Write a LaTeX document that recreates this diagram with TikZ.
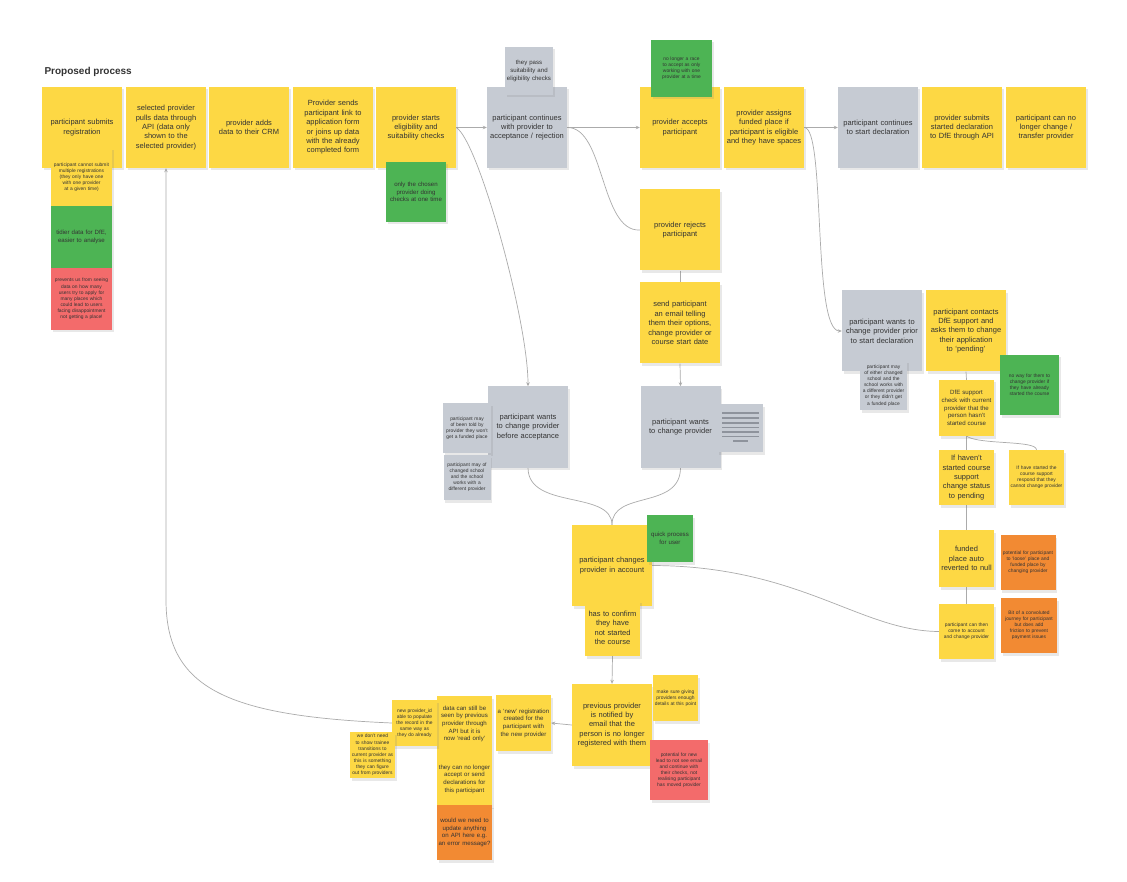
\documentclass[tikz,border=0pt]{standalone}
\usepackage{fontspec}
\setmainfont{Liberation Sans}
\usetikzlibrary{shadows,arrows.meta,calc}
\definecolor{yel}{HTML}{FDD844}
\definecolor{gry}{HTML}{C6CBD3}
\definecolor{grn}{HTML}{4DB454}
\definecolor{rd}{HTML}{F36B6B}
\definecolor{org}{HTML}{F28A33}
\definecolor{txt}{HTML}{333333}
\definecolor{lineC}{HTML}{ABABAB}
\definecolor{docline}{HTML}{8E939C}
\pgfdeclarelayer{back}
\pgfdeclarelayer{edges}
\pgfsetlayers{back,edges,main}
\tikzset{
  base/.style={rectangle, align=center, inner sep=0pt, text=txt,
    drop shadow={opacity=0.18, shadow xshift=1.5pt, shadow yshift=-2.5pt}},
  big/.style={base, minimum width=80pt, minimum height=81pt, text width=75pt,
    font=\fontsize{7.5}{9.4}\selectfont},
  box/.style n args={3}{minimum width=#1pt, minimum height=#2pt, text width=#3pt},
  fmed/.style={font=\fontsize{7.5}{9.4}\selectfont},
  fsm/.style={font=\fontsize{6.1}{7.7}\selectfont},
  ftiny/.style={font=\fontsize{4.9}{6.1}\selectfont},
  conn/.style={draw=lineC, line width=0.7pt},
  arr/.style={conn, -{Stealth[length=4pt,width=3.5pt]}},
}
\begin{document}
\hyphenpenalty=10000
\exhyphenpenalty=10000
\begin{tikzpicture}[x=1pt,y=-1pt]
\begin{pgfonlayer}{back}
\fill[white] (0,0) rectangle (1127,882);
\end{pgfonlayer}
\useasboundingbox (0,0) rectangle (1127,882);

\node[anchor=west, font=\bfseries\fontsize{10}{12}\selectfont, text=txt] (title) at (41,72) {Proposed process};

% top row
\node[big, fill=yel] (n1) at (82,127.5) {participant submits registration};
\node[big, fill=yel] (n2) at (166,127.5) {selected provider pulls data through API (data only shown to the selected provider)};
\node[big, fill=yel] (n3) at (249,127.5) {provider adds data to their CRM};
\node[big, fill=yel] (n4) at (333,127.5) {Provider sends participant link to application form or joins up data with the already completed form};
\node[big, fill=yel] (n5) at (416,127.5) {provider starts eligibility and suitability checks};
\node[big, fill=gry] (n6) at (527,127.5) {participant continues with provider to acceptance / rejection};
\node[big, fill=yel] (n7) at (680,127.5) {provider accepts participant};
\node[big, fill=yel] (n8) at (764,127.5) {provider assigns funded place if participant is eligible and they have spaces};
\node[big, fill=gry] (n9) at (878,127.5) {participant continues to start declaration};
\node[big, fill=yel] (n10) at (962,127.5) {provider submits started declaration to DfE through API};
\node[big, fill=yel] (n11) at (1046,127.5) {participant can no longer change / transfer provider};

\node[base, box={48}{48}{45}, fill=gry, fsm] (n6s) at (529,71) {they pass suitability and eligibility checks};
\node[base, box={61}{57}{55}, fill=grn, ftiny] (n7s) at (681.5,68.5) {no longer a race to accept as only working with one provider at a time};

% left stack
\node[base, box={61}{58}{56}, fill=yel, ftiny] (s1) at (81.5,177) {participant cannot submit multiple registrations (they only have one with one provider at a given time)};
\node[base, box={61}{62}{55}, fill=grn, fsm] (s2) at (81.5,237) {tidier data for DfE, easier to analyse};
\node[base, box={61}{62}{56}, fill=rd, ftiny] (s3) at (81.5,299) {prevents us from seeing data on how many users try to apply for many places which could lead to users facing disappointment not getting a place!};

\node[base, box={60}{60}{55}, fill=grn, fsm] (g1) at (416,192) {only the chosen provider doing checks at one time};

% middle column
\node[big, fill=yel] (n12) at (680,230) {provider rejects participant};
\node[big, fill=yel] (n13) at (680,323) {send participant an email telling them their options, change provider or course start date};
\node[big, fill=gry] (n14) at (528,427) {participant wants to change provider before acceptance};
\node[big, fill=gry] (n15) at (680.5,427) {participant wants to change provider};
\node[base, box={48}{50}{45}, fill=gry, ftiny] (gs1) at (467,428) {participant may of been told by provider they won't get a funded place};
\node[base, box={47}{45}{44}, fill=gry, ftiny] (gs2) at (467,477.5) {participant may of changed school and the school works with a different provider};
\node[base, box={46}{48}{40}, fill=gry] (doc) at (740,428) {};
\foreach \yy in {413,418,423,427.5,432,436.5}{
  \draw[docline, line width=1.5pt] (722,\yy) -- (759,\yy);
}
\draw[docline, line width=1.5pt] (733,441) -- (748,441);

\node[big, fill=yel] (n16) at (612,565.5) {participant changes provider in account};
\node[base, box={46}{47}{43}, fill=grn, fsm] (q) at (670,538.5) {quick process for user};
\node[base, box={55}{56}{53}, fill=yel, fmed] (c1) at (612.5,628) {has to confirm they have not started the course};
\node[big, fill=yel, minimum height=82pt] (n17) at (612,725) {previous provider is notified by email that the person is no longer registered with them};
\node[base, box={45}{46}{42}, fill=yel, ftiny] (m1) at (675.5,698) {make sure giving providers enough details at this point};
\node[base, box={58}{60}{53}, fill=rd, ftiny] (r1) at (679,770) {potential for new lead to not see email and continue with their checks, not realising participant has moved provider};

% bottom left cluster
\node[base, box={55}{56}{52}, fill=yel, fsm] (a1) at (523.5,723) {a `new' registration created for the participant with the new provider};
\node[base, box={55}{56}{52}, fill=yel, fsm] (d1) at (464.5,724) {data can still be seen by previous provider through API but it is now `read only'};
\node[base, box={55}{54}{52}, fill=yel, fsm] (d2) at (464.5,779) {they can no longer accept or send declarations for this participant};
\node[base, box={55}{55}{52}, fill=org, fsm] (d3) at (464.5,832.5) {would we need to update anything on API here e.g. an error message?};
\node[base, box={45}{46}{42}, fill=yel, ftiny] (y1) at (414.5,723) {new provider\_id able to populate the record in the same way as they do already};
\node[base, box={45}{46}{42}, fill=yel, ftiny] (y2) at (372.5,755) {we don't need to show trainee transitions to current provider as this is something they can figure out from providers};

% right column
\node[big, fill=gry] (rg) at (882,331) {participant wants to change provider prior to start declaration};
\node[base, box={47}{49}{44}, fill=gry, ftiny] (rgs) at (883.5,385.5) {participant may of either changed school and the school works with a different provider or they didn't get a funded place};
\node[big, fill=yel] (ry) at (966,331) {participant contacts DfE support and asks them to change their application to `pending'};
\node[base, box={59}{60}{55}, fill=grn, ftiny] (rgr) at (1029.5,385) {no way for them to change provider if they have already started the course};
\node[base, box={55}{56}{52}, fill=yel, fsm] (rc) at (966.5,408) {DfE support check with current provider that the person hasn't started course};
\node[base, box={55}{55}{52}, fill=yel, fmed] (rh) at (966.5,477.5) {If haven't started course support change status to pending};
\node[base, box={55}{55}{52}, fill=yel, ftiny] (rhs) at (1036.5,477.5) {If have started the course support respond that they cannot change provider};
\node[base, box={55}{57}{52}, fill=yel, fmed] (rf) at (966.5,558.5) {funded place auto reverted to null};
\node[base, box={55}{55}{52}, fill=org, ftiny] (ro1) at (1028,562.5) {potential for participant to `loose' place and funded place by changing provider};
\node[base, box={55}{55}{52}, fill=yel, ftiny] (rp) at (966.5,631.5) {participant can then come to account and change provider};
\node[base, box={56}{55}{52}, fill=org, ftiny] (ro2) at (1029,625.5) {Bit of a convoluted journey for participant but does add friction to prevent payment issues};

% connectors
\begin{pgfonlayer}{edges}
\draw[arr] (n5.east) -- (n6.west);
\draw[arr] (n6.east) -- (n7.west);
\draw[arr] (n8.east) -- (n9.west);
\draw[arr] (n5.east) .. controls (478,140) and (528,320) .. (n14.north);
\draw[conn] (n6.east) .. controls (605,127) and (600,232) .. (n12.west);
\draw[arr] (n8.east) .. controls (826,127) and (812,331) .. (rg.west);
\draw[conn] (n12.south) -- (n13.north);
\draw[arr] (n13.south) -- (n15.north);
\draw[conn] (n14.south) .. controls (528,510) and (612,490) .. (n16.north);
\draw[conn] (n15.south) .. controls (680.5,510) and (612,490) .. (n16.north);
\draw[conn] (n16.east) .. controls (800,566) and (860,631) .. (rp.west);
\draw[arr] (c1.south) -- (n17.north);
\draw[arr] (n17.west) -- (a1.east);
\draw[arr] (y1.west) .. controls (230,716) and (166,690) .. (166,600) -- (n2.south);
\draw[conn] (ry.south) -- (rc.north);
\draw[conn] (rc.south) -- (rh.north);
\draw[conn] (rc.south) .. controls (980,445) and (1036.5,440) .. (rhs.north);
\draw[conn] (rh.south) -- (rf.north);
\draw[conn] (rf.south) -- (rp.north);
\end{pgfonlayer}
\end{tikzpicture}
\end{document}
